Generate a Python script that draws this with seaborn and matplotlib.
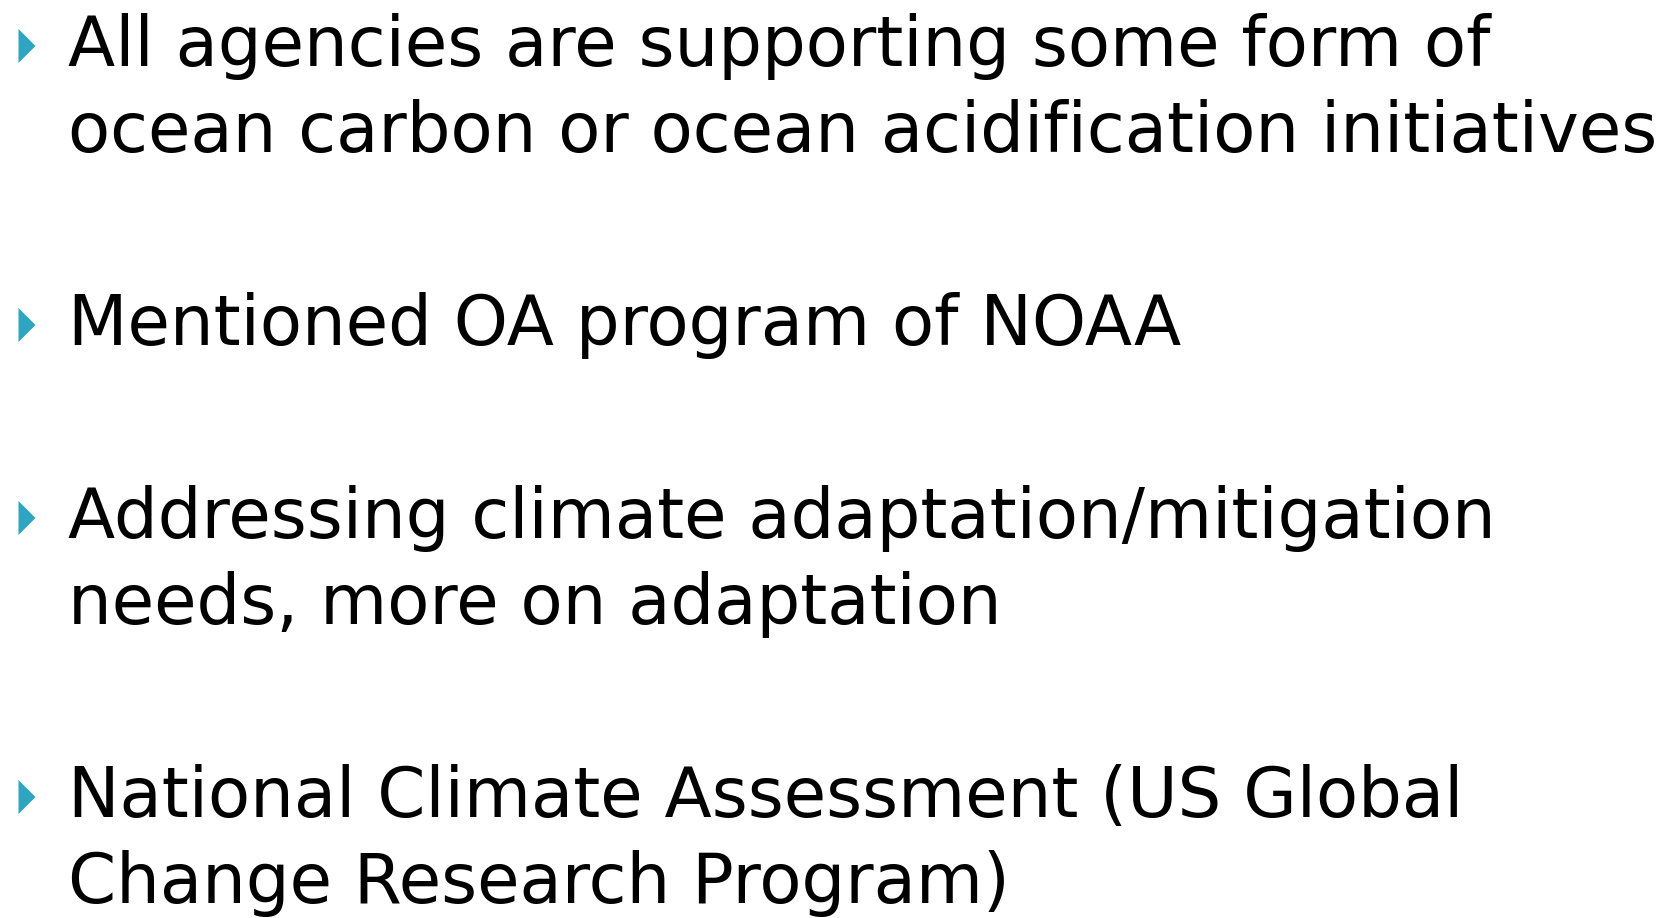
import matplotlib
matplotlib.use("Agg")
import matplotlib.pyplot as plt
import seaborn as sns
import pandas as pd
from matplotlib.path import Path

# ---- content ----
bullets = [
    ["All agencies are supporting some form of",
     "ocean carbon or ocean acidification initiatives"],
    ["Mentioned OA program of NOAA"],
    ["Addressing climate adaptation/mitigation",
     "needs, more on adaptation"],
    ["National Climate Assessment (US Global",
     "Change Research Program)"],
]

sns.set_theme(style="white")
plt.rcParams['font.family'] = ['DejaVu Sans']

W, H = 1681, 918
fig = plt.figure(figsize=(W / 100, H / 100), dpi=100)
ax = fig.add_axes([0, 0, 1, 1])
ax.set_xlim(0, W)
ax.set_ylim(H, 0)
ax.axis("off")

# layout (pixels)
text_x = 68
first_base = 66
line_step = 86
para_step = 193
bullet_x = 27
bullet_dy = -20

# fit font size so that the longest line spans ~1592 px
longest = max((l for b in bullets for l in b), key=len)
probe = ax.text(0, 0, longest, fontsize=50)
fig.canvas.draw()
w50 = probe.get_window_extent(fig.canvas.get_renderer()).width
probe.remove()
fs = 50 * 1592 / w50

rows = []
y = first_base
for b in bullets:
    rows.append({"x": bullet_x, "y": y + bullet_dy})
    for i, line in enumerate(b):
        ax.text(text_x, y, line, fontsize=fs, color="black", va="baseline", ha="left")
        if i < len(b) - 1:
            y += line_step
    y += para_step

# narrow right-pointing triangle bullet
tri = Path([(-0.5, -1.0), (0.5, 0.0), (-0.5, 1.0), (-0.5, -1.0)],
           [Path.MOVETO, Path.LINETO, Path.LINETO, Path.CLOSEPOLY])
df = pd.DataFrame(rows)
sns.scatterplot(data=df, x="x", y="y", marker=tri, s=600, color="#2FA5C2",
                edgecolor="none", linewidth=0, ax=ax, legend=False)
ax.set_xlim(0, W)
ax.set_ylim(H, 0)
ax.axis("off")

fig.savefig("out.png", dpi=100, facecolor="white")
